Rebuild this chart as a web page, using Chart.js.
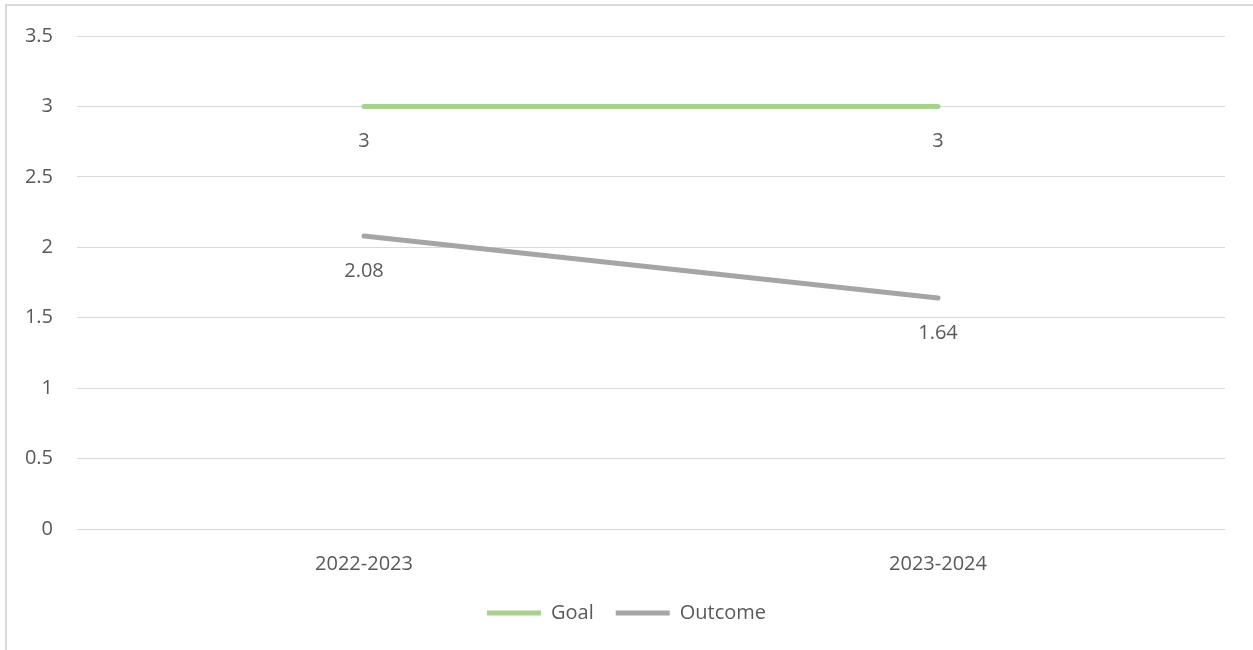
<!DOCTYPE html>
<html>
<head>
<meta charset="utf-8">
<script src="https://cdn.jsdelivr.net/npm/chart.js@4.4.1/dist/chart.umd.min.js"></script>
<style>
  body { margin: 0; background: #fff; overflow: hidden; }
  #frame { position: absolute; left: 5px; top: 4px; width: 1300px; height: 700px; border: 2px solid #d9d9d9; }
  #chart { position: absolute; left: 0; top: 0; }
</style>
</head>
<body>
<div id="frame"></div>
<canvas id="chart" width="1253" height="650"></canvas>
<script>
  const years = ['2022-2023', '2023-2024'];
  const goalValues = [3, 3];
  const outcomeValues = [2.08, 1.64];
  const yTicks = [0, 0.5, 1, 1.5, 2, 2.5, 3, 3.5];

  const textColor = '#595959';
  const fontFamily = '"Open Sans", sans-serif';
  const fontSize = 20;

  // value labels under each point
  const pointLabels = {
    id: 'pointLabels',
    afterDatasetsDraw(chart) {
      const ctx = chart.ctx;
      ctx.save();
      ctx.fillStyle = textColor;
      ctx.font = fontSize + 'px ' + fontFamily;
      ctx.textAlign = 'center';
      ctx.textBaseline = 'middle';
      chart.data.datasets.forEach((ds, i) => {
        chart.getDatasetMeta(i).data.forEach((pt, j) => {
          ctx.fillText(String(ds.data[j]), pt.x, pt.y + 35);
        });
      });
      ctx.restore();
    }
  };

  new Chart(document.getElementById('chart'), {
    type: 'line',
    data: {
      labels: years,
      datasets: [
        {
          label: 'Goal',
          data: goalValues,
          borderColor: '#a9d18e',
          backgroundColor: '#a9d18e',
          borderWidth: 5,
          borderCapStyle: 'round',
          pointRadius: 0,
          fill: false
        },
        {
          label: 'Outcome',
          data: outcomeValues,
          borderColor: '#a5a5a5',
          backgroundColor: '#a5a5a5',
          borderWidth: 5,
          borderCapStyle: 'round',
          pointRadius: 0,
          fill: false
        }
      ]
    },
    options: {
      responsive: false,
      animation: false,
      layout: { padding: { top: 34, bottom: 17, left: 0, right: 0 } },
      scales: {
        x: {
          offset: true,
          grid: { display: false },
          border: { display: false },
          ticks: { color: textColor, font: { family: fontFamily, size: fontSize }, padding: 15 },
          afterFit: (s) => { s.height = 52; }
        },
        y: {
          min: 0,
          max: 3.5,
          afterBuildTicks: (s) => { s.ticks = yTicks.map(v => ({ value: v })); },
          grid: { color: '#d9d9d9', lineWidth: 1, drawTicks: false },
          border: { display: false },
          ticks: {
            color: textColor,
            font: { family: fontFamily, size: fontSize },
            padding: 24,
            callback: (v) => String(v)
          },
          afterFit: (s) => { s.width = 77; }
        },
        // keeps the plot clear of the right edge
        gap: {
          position: 'right',
          grid: { display: false },
          border: { display: false },
          ticks: { display: false },
          afterFit: (s) => { s.width = 28; }
        }
      },
      plugins: {
        legend: {
          position: 'bottom',
          labels: {
            usePointStyle: true,
            pointStyle: 'line',
            pointStyleWidth: 54,
            color: textColor,
            font: { family: fontFamily, size: fontSize },
            padding: 22
          }
        },
        tooltip: { enabled: false }
      }
    },
    plugins: [pointLabels]
  });
</script>
</body>
</html>
